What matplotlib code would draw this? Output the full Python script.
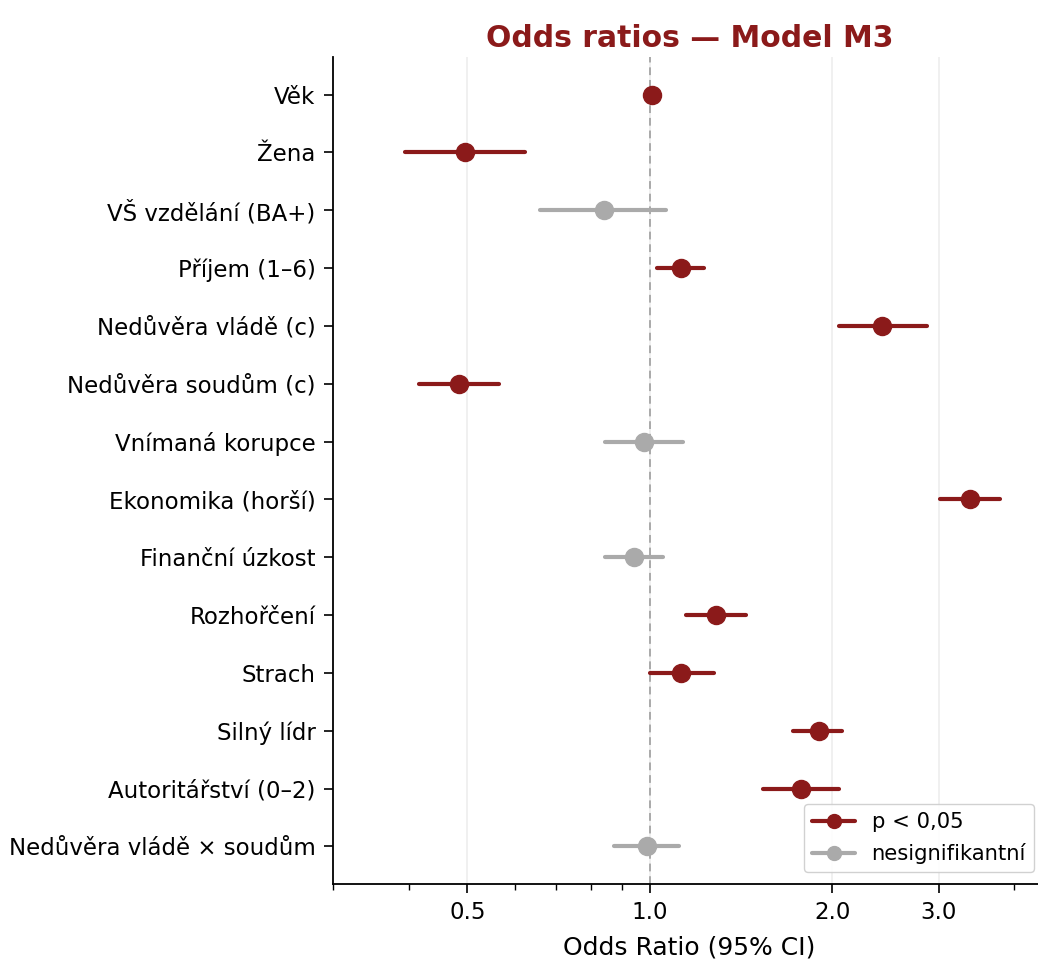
import matplotlib
matplotlib.use("Agg")
import matplotlib.pyplot as plt
from matplotlib.lines import Line2D
from matplotlib.ticker import FixedLocator, FixedFormatter, NullFormatter, LogLocator
import numpy as np

labels = ["Věk", "Žena", "VŠ vzdělání (BA+)", "Příjem (1–6)", "Nedůvěra vládě (c)",
          "Nedůvěra soudům (c)", "Vnímaná korupce", "Ekonomika (horší)", "Finanční úzkost",
          "Rozhořčení", "Strach", "Silný lídr", "Autoritářství (0–2)", "Nedůvěra vládě × soudům"]
odds = [1.01, 0.495, 0.840, 1.125, 2.42, 0.484, 0.977, 3.38, 0.941, 1.285, 1.125, 1.90, 1.774, 0.989]
ci_low = [1.00, 0.395, 0.659, 1.027, 2.05, 0.416, 0.843, 3.02, 0.843, 1.146, 1.00, 1.727, 1.536, 0.872]
ci_high = [1.02, 0.622, 1.062, 1.228, 2.87, 0.564, 1.133, 3.79, 1.05, 1.44, 1.275, 2.073, 2.05, 1.116]
significant = [True, True, False, True, True, True, False, True, False, True, True, True, True, False]
xticks = [0.5, 1.0, 2.0, 3.0]
xticklabels = ["0.5", "1.0", "2.0", "3.0"]

RED = "#8B1A1A"
GREY = "#AAAAAA"

fig = plt.figure(figsize=(10.38, 9.61), dpi=100)
ax = fig.add_axes([333/1038, 1 - 884/961, (1046-333)/1038, (884-57)/961])

for i, (o, lo, hi, s) in enumerate(zip(odds, ci_low, ci_high, significant)):
    c = RED if s else GREY
    ax.plot([lo, hi], [i, i], color=c, lw=3.0, solid_capstyle="round", zorder=3)
    ax.plot([o], [i], "o", color=c, ms=13, zorder=4)

ax.axvline(1.0, color="#AAAAAA", ls="--", lw=1.4, dashes=(4, 2.5), zorder=1)
ax.set_xscale("log")
ax.set_xlim(0.30, 4.51)
ax.set_ylim(len(labels) - 1 + 0.65, -0.65)
ax.set_yticks(range(len(labels)))
ax.set_yticklabels(labels, fontsize=16.5)
ax.xaxis.set_major_locator(FixedLocator(xticks))
ax.xaxis.set_major_formatter(FixedFormatter(xticklabels))
ax.xaxis.set_minor_locator(LogLocator(base=10, subs=np.arange(2, 10)))
ax.xaxis.set_minor_formatter(NullFormatter())
ax.tick_params(axis="x", which="major", labelsize=16.5, length=6.5, width=1.2, pad=6)
ax.tick_params(axis="x", which="minor", length=4, width=1.0)
ax.tick_params(axis="y", length=6.5, width=1.2, pad=6)
ax.grid(axis="x", which="major", color="#EEEEEE", lw=1.2, zorder=0)
ax.set_axisbelow(True)
for sp in ["top", "right"]:
    ax.spines[sp].set_visible(False)
for sp in ["left", "bottom"]:
    ax.spines[sp].set_linewidth(1.3)

ax.set_xlabel("Odds Ratio (95% CI)", fontsize=18, labelpad=8)
ax.set_title("Odds ratios — Model M3", fontsize=21.5, fontweight="bold", color=RED, pad=7)

handles = [Line2D([0], [0], color=RED, lw=3.0, marker="o", ms=10, solid_capstyle="round",
                  label="p < 0,05"),
           Line2D([0], [0], color=GREY, lw=3.0, marker="o", ms=10, solid_capstyle="round",
                  label="nesignifikantní")]
ax.legend(handles=handles, loc="lower right", fontsize=15.2, framealpha=0.9,
          borderaxespad=0.55)

fig.savefig("out.png", dpi=100)
